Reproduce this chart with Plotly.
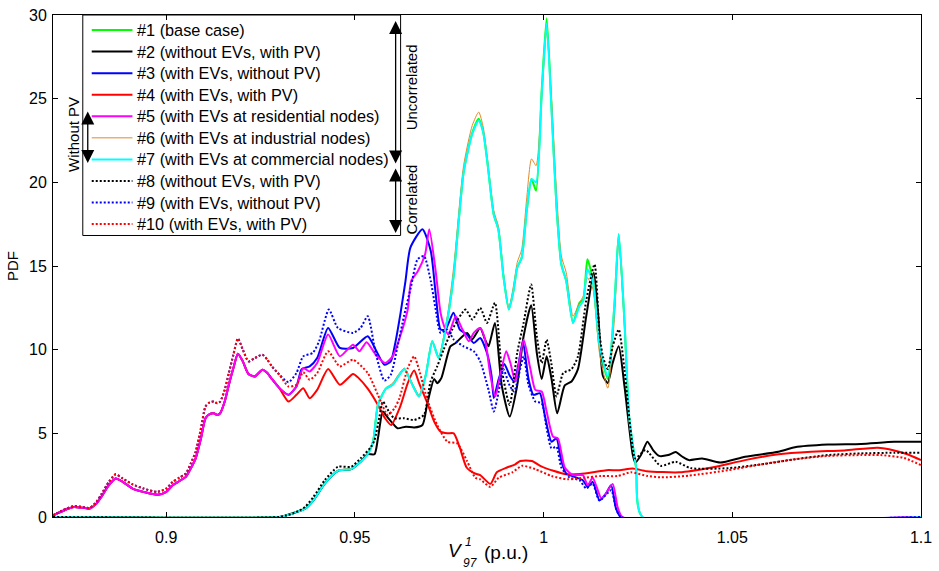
import plotly.graph_objects as go

# ---------------- data ----------------
# shared left part of the curves with EVs (solid #3,#4,#5 and dotted #9,#10)
left_x = [0.870, 0.8735, 0.8755, 0.878, 0.8797, 0.8815, 0.8828, 0.8848, 0.8866, 0.8885,
          0.8911, 0.894, 0.8977, 0.900, 0.9017, 0.9035, 0.9052, 0.9065, 0.9078, 0.9092,
          0.9104, 0.9115, 0.9126, 0.9135, 0.9143, 0.9155, 0.9166, 0.9178, 0.919, 0.9203,
          0.9218, 0.9235, 0.9255, 0.9268, 0.928, 0.930]
left_solid = [0.1, 0.45, 0.6, 0.55, 0.5, 0.8, 1.2, 1.9, 2.3, 2.1,
              1.7, 1.5, 1.33, 1.5, 1.9, 2.15, 2.4, 2.9, 3.5, 4.7,
              5.9, 6.15, 6.2, 6.1, 6.2, 6.9, 7.9, 8.9, 9.76, 9.3,
              8.55, 8.4, 8.8, 8.6, 8.25, 7.7]
left_dot = [0.1, 0.5, 0.65, 0.6, 0.55, 0.9, 1.35, 2.1, 2.55, 2.3,
            1.95, 1.7, 1.5, 1.7, 2.1, 2.35, 2.6, 3.2, 3.9, 5.3,
            6.6, 6.85, 6.9, 6.8, 6.9, 7.6, 8.6, 9.7, 10.67, 10.0,
            9.3, 9.5, 9.7, 9.4, 9.0, 8.5]

# #1 base case / #6 industrial / #7 commercial
x_base = [0.870, 0.930, 0.9319, 0.9345, 0.9368, 0.939, 0.942, 0.9455, 0.949, 0.9515,
          0.9534, 0.9548, 0.9561, 0.9582, 0.960, 0.9615, 0.9631, 0.9650, 0.9670, 0.9688,
          0.9705, 0.9722, 0.9745, 0.9762, 0.9788, 0.9811, 0.9828, 0.9840, 0.985, 0.9868,
          0.9880, 0.9894, 0.9908, 0.9920, 0.993, 0.9942, 0.9955, 0.9968, 0.998, 0.9995,
          1.0008, 1.0021, 1.0034, 1.0047, 1.006, 1.0078, 1.0095, 1.0105, 1.0116, 1.0131,
          1.0148, 1.017, 1.0188, 1.0199, 1.0214, 1.0227, 1.0245, 1.0262, 1.1]
y_case1 = [0, 0, 0.1, 0.3, 0.5, 1.0, 2.0, 2.76, 2.86, 3.3,
           3.75, 4.5, 6.7, 7.67, 7.9, 8.4, 8.84, 8.0, 7.2, 8.5,
           10.5, 9.5, 11.8, 14.5, 20.6, 22.96, 23.8, 23.0, 21.4, 18.06,
           17.2, 14.3, 12.4, 13.5, 14.9, 15.5, 18.25, 20.2, 19.5, 25.5,
           29.8, 24.5, 18.6, 15.1, 14.1, 11.6, 12.8, 13.0, 15.4, 14.1,
           10.2, 8.25, 12.8, 16.9, 11.8, 5.9, 2.96, 0, 0]
y_case6 = [0, 0, 0.1, 0.3, 0.5, 1.0, 2.0, 2.8, 2.9, 3.3,
           3.8, 4.6, 6.8, 7.7, 8.0, 8.5, 8.9, 8.1, 7.3, 8.6,
           10.5, 9.6, 12.0, 15.0, 21.0, 23.4, 24.2, 23.3, 21.6, 18.3,
           17.4, 14.5, 12.5, 13.8, 15.2, 16.0, 19.0, 21.4, 21.0, 25.0,
           29.0, 25.0, 19.5, 15.6, 14.6, 12.0, 12.8, 13.2, 14.3, 13.6,
           9.8, 7.7, 12.0, 16.5, 11.5, 5.6, 2.8, 0, 0]
y_case7 = [0, 0, 0.1, 0.3, 0.5, 1.0, 2.0, 2.76, 2.86, 3.3,
           3.75, 4.5, 6.7, 7.67, 7.9, 8.4, 8.84, 8.0, 7.2, 8.5,
           10.5, 9.5, 11.8, 14.5, 20.6, 22.9, 23.7, 23.0, 21.4, 18.06,
           17.2, 14.3, 12.4, 13.5, 14.9, 15.5, 18.25, 20.2, 20.0, 25.3,
           29.5, 24.3, 18.6, 15.1, 14.1, 11.6, 12.6, 12.9, 14.8, 14.0,
           10.3, 8.4, 12.8, 16.9, 11.8, 5.9, 2.96, 0, 0]

# #2 without EVs, with PV (uncorrelated)
x_case2 = [0.870, 0.930, 0.9319, 0.9345, 0.9368, 0.939, 0.942, 0.9455, 0.949, 0.9515,
           0.9534, 0.9552, 0.9561, 0.9574, 0.9585, 0.960, 0.9613, 0.9635, 0.9657, 0.9679,
           0.9692, 0.971, 0.9718, 0.9729, 0.9753, 0.9767, 0.9797, 0.981, 0.9832, 0.9845,
           0.9854, 0.9871, 0.9889, 0.991, 0.993, 0.9947, 0.9967, 0.9982, 0.9995, 1.0008,
           1.0021, 1.0036, 1.0056, 1.0074, 1.0091, 1.0113, 1.0133, 1.0145, 1.0157, 1.017,
           1.0183, 1.0199, 1.0214, 1.0236, 1.0243, 1.0258, 1.0275, 1.029, 1.0306, 1.033,
           1.035, 1.0368, 1.0385, 1.042, 1.0468, 1.0534, 1.0622, 1.0666, 1.0753, 1.0841,
           1.0929, 1.1]
y_case2 = [0, 0, 0.1, 0.3, 0.5, 1.0, 2.0, 2.76, 2.86, 3.3,
           3.75, 3.75, 4.7, 6.3, 6.0, 5.6, 5.3, 5.4, 5.35, 5.5,
           6.8, 8.25, 8.0, 8.3, 10.2, 10.4, 11.0, 10.6, 11.3, 10.6,
           10.2, 11.6, 7.86, 6.0, 7.86, 10.8, 12.66, 9.8, 8.25, 9.6,
           8.25, 6.2, 7.86, 8.1, 8.84, 12.0, 14.6, 12.0, 8.45, 8.0,
           9.2, 10.2, 7.86, 3.75, 3.25, 3.7, 4.5, 4.0, 3.65, 3.7,
           3.88, 3.6, 3.4, 3.5, 3.25, 3.6, 3.9, 4.17, 4.33, 4.37,
           4.49, 4.49]

# #3 with EVs, without PV (uncorrelated)
x_case3 = left_x + [0.9324, 0.9345, 0.9359, 0.938, 0.940, 0.9429, 0.946, 0.9495, 0.9534, 0.9555,
                    0.9578, 0.9595, 0.9607, 0.9621, 0.9634, 0.9647, 0.9679, 0.9701, 0.9714, 0.9727,
                    0.974, 0.9761, 0.9778, 0.9797, 0.9815, 0.9832, 0.985, 0.9862, 0.9868, 0.9881,
                    0.9896, 0.991, 0.9922, 0.9934, 0.9945, 0.996, 0.9973, 0.999, 1.0003, 1.0021,
                    1.0034, 1.0047, 1.006, 1.0082, 1.0104, 1.0117, 1.013, 1.0148, 1.0165, 1.0179,
                    1.0192, 1.0205, 1.1]
y_case3 = left_solid + [7.3, 7.8, 8.84, 9.0, 9.5, 11.3, 10.1, 10.1, 10.8, 10.0,
                        9.1, 9.3, 10.4, 12.2, 14.1, 16.1, 17.2, 15.9, 13.35, 11.2,
                        11.2, 12.2, 11.2, 10.9, 10.4, 10.7, 9.8, 8.45, 7.1, 8.25,
                        9.14, 8.45, 8.1, 9.2, 10.5, 8.25, 7.3, 7.4, 6.1, 4.5,
                        4.7, 3.35, 2.6, 2.4, 2.2, 1.8, 2.1, 1.0, 1.4, 1.9,
                        0.5, 0, 0]

# #4 with EVs, with PV (uncorrelated)
x_case4 = left_x + [0.9324, 0.9345, 0.9363, 0.938, 0.940, 0.9429, 0.946, 0.9495, 0.951, 0.9534,
                    0.9561, 0.958, 0.9596, 0.962, 0.964, 0.9657, 0.967, 0.9692, 0.971, 0.9727,
                    0.9745, 0.9762, 0.9778, 0.9796, 0.9818, 0.9832, 0.9859, 0.9876, 0.9903, 0.9925,
                    0.9938, 0.9969, 0.9991, 1.0026, 1.0061, 1.0096, 1.0131, 1.0166, 1.0201, 1.0236,
                    1.0273, 1.0359, 1.0446, 1.0534, 1.0622, 1.0709, 1.0797, 1.0885, 1.0929, 1.0964,
                    1.1]
y_case4 = left_solid + [6.9, 7.3, 7.7, 7.1, 7.6, 8.84, 7.9, 8.55, 8.3, 7.67,
                        6.7, 5.9, 5.5, 6.6, 8.0, 8.75, 8.0, 6.8, 5.7, 5.1,
                        5.0, 5.0, 4.14, 2.96, 2.6, 2.5, 1.98, 2.67, 2.96, 3.15,
                        3.35, 3.35, 3.06, 2.76, 2.55, 2.57, 2.67, 2.8, 2.8, 2.9,
                        2.74, 2.67, 2.96, 3.4, 3.75, 3.9, 3.98, 4.14, 3.98, 3.75,
                        3.4]

# #5 with EVs at residential nodes
x_case5 = left_x + [0.9324, 0.9345, 0.9363, 0.938, 0.940, 0.9429, 0.946, 0.9495, 0.9512, 0.9531,
                    0.9555, 0.958, 0.960, 0.962, 0.964, 0.9649, 0.9667, 0.9686, 0.9697, 0.9714,
                    0.9727, 0.974, 0.9748, 0.9767, 0.9785, 0.9802, 0.9815, 0.9832, 0.9845, 0.9859,
                    0.9872, 0.9885, 0.9901, 0.9912, 0.9925, 0.9947, 0.9965, 0.9978, 0.9995, 1.0008,
                    1.0025, 1.0038, 1.0056, 1.0078, 1.0104, 1.0117, 1.013, 1.0153, 1.0162, 1.0183,
                    1.0196, 1.0209, 1.1]
y_case5 = left_solid + [7.3, 7.8, 8.9, 8.7, 9.2, 10.9, 9.6, 10.3, 9.9, 10.45,
                        9.7, 9.2, 9.6, 10.8, 12.4, 14.1, 14.7, 15.7, 17.2, 14.7,
                        12.2, 11.2, 10.9, 12.0, 11.2, 10.5, 11.0, 11.3, 10.6, 8.45,
                        7.2, 8.45, 9.9, 9.2, 8.1, 10.6, 8.84, 7.6, 7.5, 6.3,
                        4.8, 4.7, 2.96, 2.5, 2.5, 1.9, 2.35, 1.1, 1.3, 1.98,
                        0.6, 0, 0]

# #8 without EVs, with PV (correlated)
x_case8 = [0.870, 0.930, 0.9319, 0.9345, 0.9368, 0.939, 0.942, 0.9455, 0.949, 0.9515,
           0.9543, 0.9552, 0.9565, 0.9574, 0.959, 0.9604, 0.963, 0.9657, 0.9683, 0.970,
           0.9718, 0.9735, 0.9758, 0.9793, 0.9811, 0.9832, 0.985, 0.9871, 0.9889, 0.991,
           0.993, 0.9947, 0.9967, 0.9982, 0.9995, 1.0008, 1.0021, 1.0034, 1.0052, 1.0074,
           1.0091, 1.0113, 1.0135, 1.0148, 1.0157, 1.017, 1.0183, 1.0199, 1.0214, 1.0232,
           1.0243, 1.027, 1.031, 1.035, 1.039, 1.049, 1.0578, 1.0666, 1.0753, 1.084,
           1.0929, 1.1]
y_case8 = [0, 0, 0.1, 0.3, 0.6, 1.2, 2.2, 3.0, 3.0, 3.5,
           4.2, 4.6, 6.0, 6.9, 6.3, 5.9, 5.9, 5.8, 6.1, 8.06,
           9.0, 10.0, 11.2, 12.4, 11.8, 12.5, 11.6, 12.8, 8.84, 6.7,
           9.8, 11.6, 13.9, 10.8, 9.2, 10.6, 9.1, 7.2, 8.6, 8.84,
           9.6, 12.95, 15.1, 11.0, 9.6, 8.84, 10.2, 11.2, 8.84, 4.9,
           3.5, 4.0, 3.06, 3.3, 2.92, 2.92, 3.15, 3.45, 3.7, 3.8,
           3.84, 3.84]

# #9 with EVs, without PV (correlated)
x_case9 = left_x + [0.9324, 0.9345, 0.9363, 0.9388, 0.9405, 0.9431, 0.9455, 0.9495, 0.9515, 0.9534,
                    0.9555, 0.9578, 0.9595, 0.9613, 0.963, 0.9648, 0.9666, 0.9683, 0.9701, 0.9714,
                    0.9727, 0.9745, 0.9762, 0.9788, 0.9815, 0.9832, 0.9854, 0.9868, 0.9881, 0.9893,
                    0.991, 0.9922, 0.9947, 0.996, 0.9978, 0.9995, 1.0008, 1.0021, 1.0034, 1.0047,
                    1.0069, 1.0095, 1.0113, 1.013, 1.0148, 1.0179, 1.0192, 1.0205, 1.1]
y_case9 = left_dot + [8.06, 8.6, 9.6, 9.8, 10.5, 12.4, 11.3, 11.0, 11.3, 12.0,
                      9.8, 8.15, 8.5, 10.2, 12.0, 13.7, 15.4, 15.6, 14.1, 12.4,
                      11.0, 11.2, 10.6, 10.2, 9.9, 9.3, 7.6, 6.3, 7.5, 8.84,
                      7.86, 7.5, 9.6, 7.9, 6.9, 6.8, 5.3, 4.1, 4.2, 2.96,
                      2.35, 2.2, 1.7, 2.0, 0.98, 1.6, 0.5, 0, 0]

# #10 with EVs, with PV (correlated)
x_case10 = left_x + [0.9324, 0.9345, 0.9363, 0.938, 0.940, 0.9429, 0.946, 0.9495, 0.9534, 0.9561,
                     0.9587, 0.9605, 0.9618, 0.964, 0.9657, 0.967, 0.9692, 0.9718, 0.9745, 0.9771,
                     0.9797, 0.9819, 0.9832, 0.9859, 0.9881, 0.9917, 0.9943, 0.9978, 1.0021, 1.0064,
                     1.0108, 1.0152, 1.0196, 1.0232, 1.0275, 1.031, 1.0385, 1.049, 1.0578, 1.0666,
                     1.0753, 1.084, 1.0893, 1.0955, 1.1]
y_case10 = left_dot + [7.8, 7.9, 8.65, 8.2, 8.6, 9.9, 9.0, 9.4, 8.6, 7.3,
                       6.1, 6.5, 7.1, 8.9, 9.6, 8.8, 7.0, 5.5, 4.5, 4.4,
                       3.35, 2.35, 2.25, 1.8, 2.35, 2.67, 3.06, 2.86, 2.45, 2.25,
                       2.35, 2.45, 2.45, 2.67, 2.45, 2.37, 2.47, 2.8, 3.15, 3.45,
                       3.65, 3.7, 3.7, 3.53, 3.1]

names = ["#1 (base case)",
         "#2 (without EVs, with PV)",
         "#3 (with EVs, without PV)",
         "#4 (with EVs, with PV)",
         "#5 (with EVs at residential nodes)",
         "#6 (with EVs at industrial nodes)",
         "#7 (with EVs at commercial nodes)",
         "#8 (without EVs, with PV)",
         "#9 (with EVs, without PV)",
         "#10 (with EVs, with PV)"]

x_ticks = [0.9, 0.95, 1.0, 1.05, 1.1]
x_tick_text = ["0.9", "0.95", "1", "1.05", "1.1"]
y_ticks = [0, 5, 10, 15, 20, 25, 30]

# ---------------- figure ----------------
FONT = "Arial, Liberation Sans, sans-serif"
DOT = "2px,2px"
series = [
    (x_base, y_case1, "#00FF00", 2, "solid"),
    (x_case2, y_case2, "#000000", 2, "solid"),
    (x_case3, y_case3, "#0000FF", 2, "solid"),
    (x_case4, y_case4, "#FF0000", 2, "solid"),
    (x_case5, y_case5, "#FF00FF", 2, "solid"),
    (x_base, y_case6, "#E08A2C", 1, "solid"),
    (x_base, y_case7, "#00FFFF", 2, "solid"),
    (x_case8, y_case8, "#000000", 2, DOT),
    (x_case9, y_case9, "#0000FF", 2, DOT),
    (x_case10, y_case10, "#FF0000", 2, DOT),
]

L, R, T, B = 53, 12, 7, 54
W, H = 939, 571
PW, PH = W - L - R, H - T - B


def px_x(px):
    return (px - L) / PW


def px_y(py):
    return (H - B - py) / PH


fig = go.Figure()
for (xs, ys, col, w, dash), nm in zip(series, names):
    fig.add_trace(go.Scatter(x=xs, y=ys, mode="lines", name=nm, showlegend=False,
                             line=dict(color=col, width=w, dash=dash,
                                       shape="spline", smoothing=0.6)))

axis_common = dict(showline=True, linecolor="black", linewidth=1, mirror="ticks",
                   ticks="inside", ticklen=5, tickcolor="black", showgrid=False,
                   zeroline=False, ticklabeloverflow="allow",
                   tickfont=dict(family=FONT, size=16, color="black"))

fig.update_layout(
    width=W, height=H,
    margin=dict(l=L, r=R, t=T, b=B),
    paper_bgcolor="white", plot_bgcolor="white",
    font=dict(family=FONT, size=15, color="black"),
    xaxis=dict(range=[0.87, 1.1], tickvals=x_ticks, ticktext=x_tick_text,
               ticklabelstandoff=6, **axis_common),
    yaxis=dict(range=[0, 30], tickvals=y_ticks, ticklabelstandoff=2,
               title=dict(text="PDF", font=dict(family=FONT, size=15), standoff=6),
               **axis_common),
    showlegend=False,
)

# ---- x-axis title with stacked super/subscript ----
fig.add_annotation(x=px_x(468), y=px_y(551), xref="paper", yref="paper", showarrow=False,
                   text="<i>V</i>", xanchor="right", yanchor="middle",
                   font=dict(family=FONT, size=19, color="black"))
fig.add_annotation(x=px_x(466), y=px_y(542), xref="paper", yref="paper", showarrow=False,
                   text="<i>1</i>", xanchor="left", yanchor="middle",
                   font=dict(family=FONT, size=12, color="black"))
fig.add_annotation(x=px_x(464), y=px_y(564), xref="paper", yref="paper", showarrow=False,
                   text="<i>97</i>", xanchor="left", yanchor="middle",
                   font=dict(family=FONT, size=12, color="black"))
fig.add_annotation(x=px_x(485), y=px_y(553), xref="paper", yref="paper", showarrow=False,
                   text="(p.u.)", xanchor="left", yanchor="middle",
                   font=dict(family=FONT, size=19, color="black"))

# ---- legend box drawn by hand (MATLAB-like compact legend) ----
leg_left, leg_right, leg_top, leg_bottom = 83, 403, 7, 231
fig.add_shape(type="rect", xref="paper", yref="paper",
              x0=px_x(leg_left), x1=px_x(leg_right), y0=px_y(leg_bottom), y1=px_y(leg_top),
              line=dict(color="black", width=1), fillcolor="rgba(255,255,255,0)", layer="above")
for i, ((xs, ys, col, w, dash), nm) in enumerate(zip(series, names)):
    ry = 22.3 + 21.9 * i
    fig.add_shape(type="line", xref="paper", yref="paper",
                  x0=px_x(92), x1=px_x(133), y0=px_y(ry), y1=px_y(ry),
                  line=dict(color=col, width=w, dash=dash), layer="above")
    fig.add_annotation(x=px_x(136), y=px_y(ry), xref="paper", yref="paper", showarrow=False,
                       text=nm, xanchor="left", yanchor="middle",
                       font=dict(family=FONT, size=16.3, color="black"))

# ---- grouping arrows and labels ----
arrow_style = dict(showarrow=True, arrowhead=2, startarrowhead=2, arrowside="end+start",
                   arrowsize=2.0, startarrowsize=2.0, arrowwidth=1.3, arrowcolor="black",
                   xref="paper", yref="paper", axref="pixel", ayref="pixel", text="")
fig.add_annotation(x=px_x(88), y=px_y(105), ax=0, ay=53, **arrow_style)
fig.add_annotation(x=px_x(398), y=px_y(13), ax=0, ay=144, **arrow_style)
fig.add_annotation(x=px_x(398), y=px_y(163), ax=0, ay=66, **arrow_style)

txt = dict(showarrow=False, xref="paper", yref="paper", textangle=-90,
           font=dict(family=FONT, size=15, color="black"), xanchor="center", yanchor="middle")
fig.add_annotation(x=px_x(73), y=px_y(128), text="Without PV", **txt)
fig.add_annotation(x=px_x(414), y=px_y(81), text="Uncorrelated", **txt)
fig.add_annotation(x=px_x(414), y=px_y(195), text="Correlated", **txt)

fig.write_html("out.html")
